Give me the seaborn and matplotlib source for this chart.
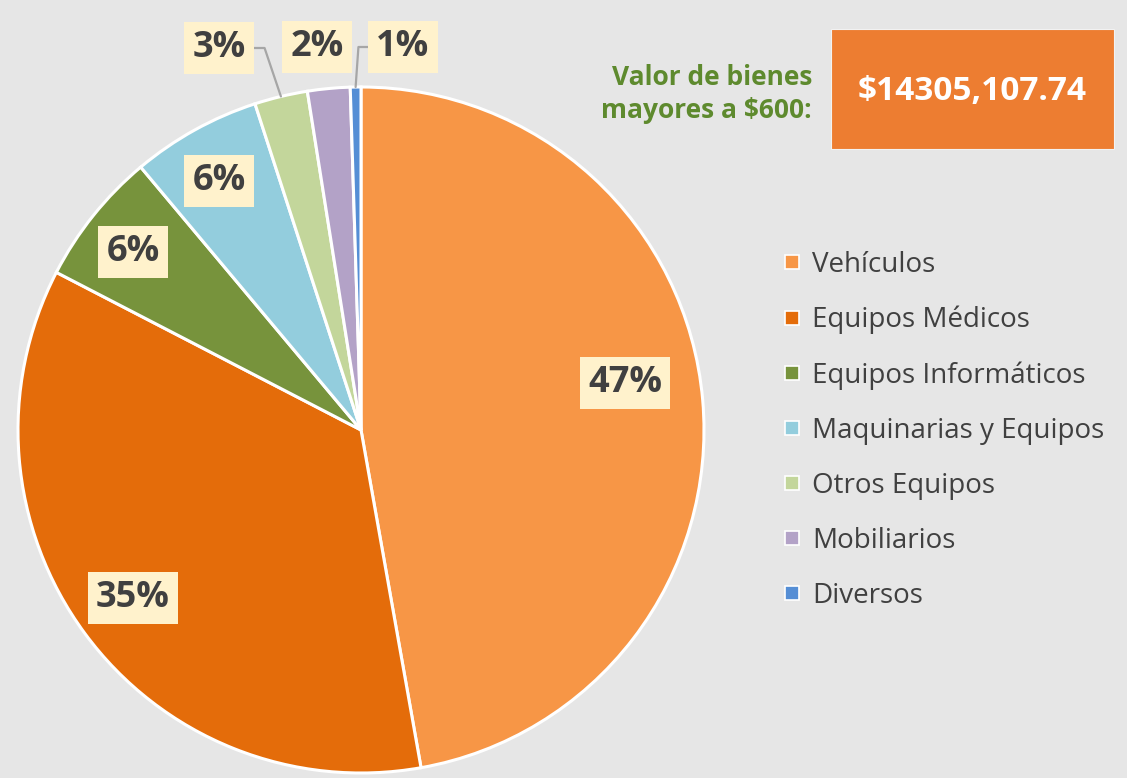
import math
import matplotlib
matplotlib.use("Agg")
import matplotlib.pyplot as plt
import seaborn as sns
from matplotlib.lines import Line2D
from matplotlib.patches import Rectangle

# ---------------- data ----------------
categories = ["Vehículos", "Equipos Médicos", "Equipos Informáticos",
              "Maquinarias y Equipos", "Otros Equipos", "Mobiliarios", "Diversos"]
shares = [47.2, 35.4, 6.3, 6.1, 2.5, 2.0, 0.5]
slice_colors = ["#F79646", "#E46C0A", "#77933C", "#93CDDD", "#C3D69B", "#B3A2C7", "#558ED5"]
header_label = "Valor de bienes\nmayores a $600:"
total_label = "$14305,107.74"

# label placement (pixel centres in the 1127x778 canvas) and leader side
label_px = [(625, 383), (133, 598), (133, 252), (219, 181), (219, 48), (317, 47), (403, 47)]
leader_side = [None, None, None, None, "right", None, "left"]

BG = "#E6E6E6"
TXT = "#404040"

sns.set_theme(style="white", rc={"figure.facecolor": BG, "axes.facecolor": BG,
                                 "savefig.facecolor": BG})
plt.rcParams["font.family"] = ["Open Sans", "DejaVu Sans"]

W, H = 1127, 778
fig = plt.figure(figsize=(W / 100, H / 100), dpi=100)
cx, cy, r = 361, 430, 343
ax = fig.add_axes([(cx - r) / W, (H - cy - r) / H, 2 * r / W, 2 * r / H])
palette = sns.color_palette(slice_colors)

wedges, _ = ax.pie(shares, colors=palette, startangle=90, counterclock=False,
                   radius=1, wedgeprops=dict(edgecolor="white", linewidth=2.2))
ax.set_xlim(-1, 1)
ax.set_ylim(-1, 1)
ax.set_aspect("equal")
ax.axis("off")


def px_to_data(px, py):
    return (px - cx) / r, (cy - py) / r


texts = []
for share, (px, py) in zip(shares, label_px):
    pct = int(math.floor(share + 0.5))
    x, y = px_to_data(px, py)
    t = ax.text(x, y, f"{pct}%", ha="center", va="center", fontsize=26,
                fontweight="bold", color=TXT, clip_on=False, zorder=5,
                bbox=dict(boxstyle="square,pad=0.22", facecolor="#FFF2CC",
                          edgecolor="none"))
    texts.append(t)

fig.canvas.draw()
renderer = fig.canvas.get_renderer()
inv = ax.transData.inverted()
for w, t, side in zip(wedges, texts, leader_side):
    if side is None:
        continue
    mid = math.radians((w.theta1 + w.theta2) / 2)
    ex, ey = math.cos(mid), math.sin(mid)
    bb = t.get_bbox_patch().get_window_extent(renderer)
    ymid = (bb.y0 + bb.y1) / 2
    if side == "right":
        x0, x1 = bb.x1, bb.x1 + 11
    else:
        x0, x1 = bb.x0, bb.x0 - 10
    p0 = inv.transform((x0, ymid))
    p1 = inv.transform((x1, ymid))
    ax.plot([p0[0], p1[0], ex], [p0[1], p1[1], ey], color="#A6A6A6",
            linewidth=1.6, clip_on=False, zorder=4)

# header text and total box
fig.text(812 / W, 1 - 94 / H, header_label, ha="right", va="center",
         color="#5E8A2E", fontsize=19, fontweight="bold", linespacing=1.25)
fig.patches.append(Rectangle((831 / W, 1 - 149 / H), (1114 - 831) / W, (149 - 29) / H,
                             transform=fig.transFigure, facecolor="#ED7D31",
                             edgecolor="#F2F2F2", linewidth=0.8))
fig.text(972 / W, 1 - 91 / H, total_label, ha="center", va="center",
         color="white", fontsize=24, fontweight="bold")

# legend
handles = [Line2D([], [], marker="s", linestyle="none", markersize=10.5,
                  markerfacecolor=c, markeredgecolor="white", markeredgewidth=1.2)
           for c in palette]
fig.legend(handles, categories, loc="upper left", bbox_to_anchor=(779 / W, 1 - 251 / H),
           frameon=False, fontsize=20, labelcolor=TXT, handletextpad=0.3,
           handlelength=0.9, labelspacing=0.97, borderaxespad=0, borderpad=0)

fig.savefig("out.png", dpi=100, facecolor=BG)
